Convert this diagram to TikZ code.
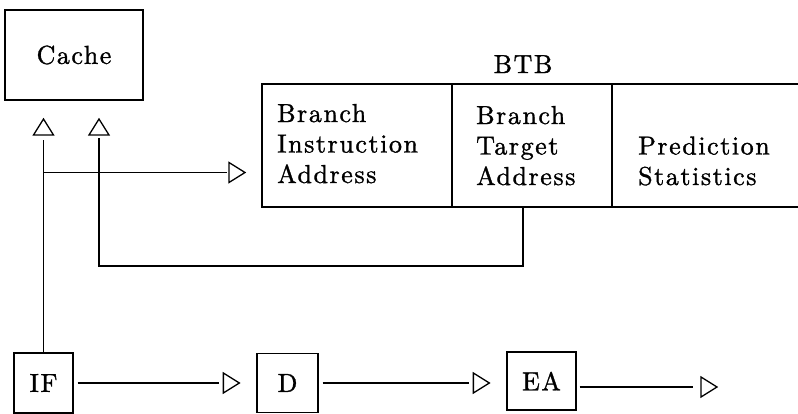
\documentclass[tikz,border=0pt]{standalone}
\usepackage{fontspec}
\setmainfont{lmroman10-regular.otf}
\usetikzlibrary{decorations.markings}
% open triangular arrowhead, tip at the local origin
\newcommand\opentri{\draw[line width=1.3pt, shorten >=0pt, shorten <=0pt, line join=miter]
  (0pt,0pt) -- (-16pt,10pt) -- (-16pt,-10pt) -- cycle;}
\begin{document}
\begin{tikzpicture}[x=1pt,y=-1pt,
  every node/.style={font=\fontsize{26}{30.5}\selectfont\addfontfeatures{LetterSpace=6,FakeBold=1.2}},
  box/.style={draw, line width=1.3pt, inner sep=0pt},
  conn/.style={line width=1.2pt},
  tri/.style={postaction=decorate,
    decoration={markings, mark=at position #1 with {\opentri}}},
  tri/.default=1,
  txt/.style={anchor=base west, align=left, inner sep=0pt}
]
\useasboundingbox (0,0) rectangle (798,413);
\clip (0,0) rectangle (798,413);

% cache
\node[box, minimum width=138, minimum height=90] (cache) at (74,55) {Cache};

% branch target buffer: three cells, the last one runs off the right side
\node[box, minimum width=190, minimum height=123] (bia) at (357,145.5) {};
\node[box, minimum width=160, minimum height=123] (bta) at (532,145.5) {};
\node[box, minimum width=288, minimum height=123] (ps)  at (756,145.5) {};
\node[anchor=base, inner sep=0pt] (btb) at (523,73) {BTB};
\node[txt] (biatxt) at (277,183) {Branch\\Instruction\\Address};
\node[txt] (btatxt) at (476,185) {Branch\\Target\\Address};
\node[txt] (pstxt)  at (638,185) {Prediction\\Statistics};

% pipeline stages
\node[box, minimum width=59, minimum height=60] (IF) at (43.5,383) {\raisebox{-5pt}{IF}};
\node[box, minimum width=61, minimum height=59] (D)  at (287.5,383) {D};
\node[box, minimum width=69, minimum height=58] (EA) at (541.5,381) {\raisebox{-3pt}{EA}};

% free ends of the connectors
\coordinate (up1) at (43.5,119);
\coordinate (up2) at (99,119);
\coordinate (fork) at (43.5,172.5);
\coordinate (btbin) at (245,172.5);
\coordinate (tap) at (523,207);
\coordinate (turn) at (99,266);
\coordinate (out) at (717,387);

% fetch address to the cache and to the BTB
\draw[conn,tri,shorten >=21pt] (IF.north) -- (up1);
\draw[conn,tri,shorten >=18pt] (fork) -- (btbin);
% predicted target back to the cache
\draw[conn,tri,shorten >=19pt] (tap) |- (turn) -- (up2);

% pipeline flow
\draw[conn,tri=-17pt,shorten <=4pt,shorten >=37pt] (IF.east) -- (D.west);
\draw[conn,tri=-17pt,shorten <=4pt,shorten >=37pt] (D.east) -- (EA.west |- D.east);
\draw[conn,tri,shorten <=3pt,shorten >=24pt] (EA.east |- out) -- (out);
\end{tikzpicture}
\end{document}
